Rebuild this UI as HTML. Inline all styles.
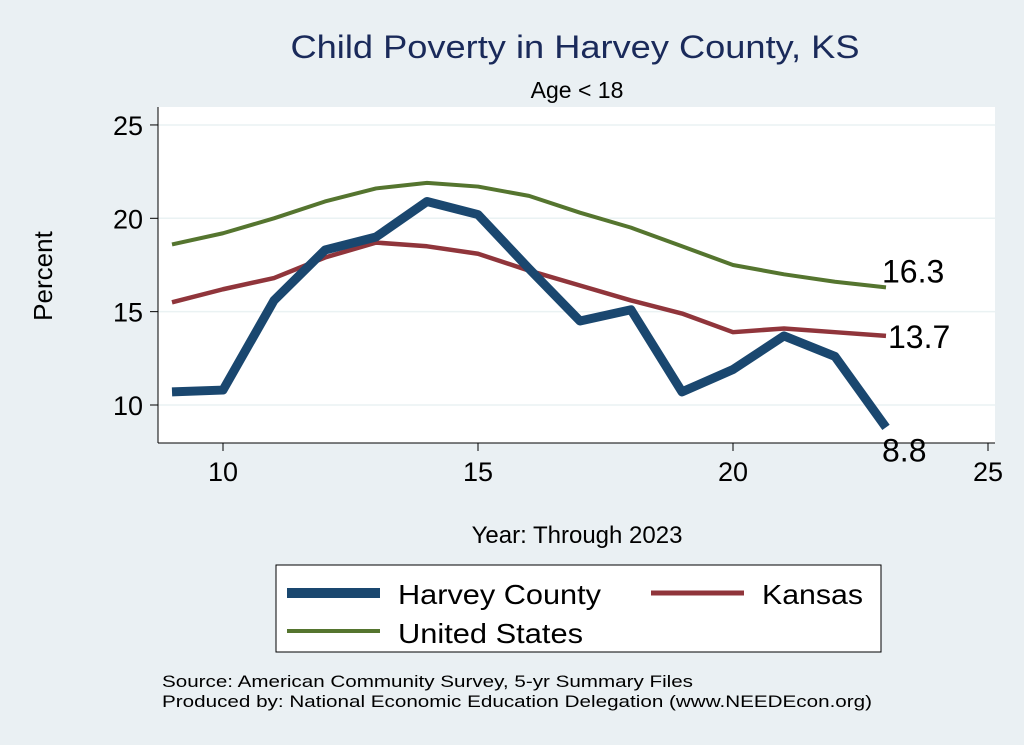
<!DOCTYPE html>
<html><head><meta charset="utf-8"><style>
body{margin:0;background:#eaf0f3;}
svg{display:block;font-family:"Liberation Sans",sans-serif;}
</style></head><body>
<svg id="chart" width="1024" height="745">
<rect x="0" y="0" width="1024" height="745" fill="#eaf0f3"/>
<text x="575" y="58" font-size="32" fill="#1a2a5a" text-anchor="middle" textLength="569" lengthAdjust="spacingAndGlyphs">Child Poverty in Harvey County, KS</text>
<text x="577" y="98" font-size="23" fill="#000" text-anchor="middle">Age &lt; 18</text>
<rect x="158" y="107" width="837" height="336" fill="#fff"/>
<g id="grid"></g>
<g id="axes"></g>
<g id="series"></g>
<text x="52" y="276" font-size="26" text-anchor="middle" transform="rotate(-90 52 276)">Percent</text>
<text x="577" y="543" font-size="24" text-anchor="middle">Year: Through 2023</text>
<g>
<rect x="276" y="565" width="605" height="87" fill="#fff" stroke="#000" stroke-width="1"/>
<line x1="287" y1="593" x2="380" y2="593" stroke="#1a476f" stroke-width="10"/>
<text x="398" y="604" font-size="28" textLength="203" lengthAdjust="spacingAndGlyphs">Harvey County</text>
<line x1="651" y1="593" x2="744" y2="593" stroke="#90353b" stroke-width="5"/>
<text x="762" y="604" font-size="28" textLength="101" lengthAdjust="spacingAndGlyphs">Kansas</text>
<line x1="287" y1="631" x2="380" y2="631" stroke="#55752f" stroke-width="4"/>
<text x="398" y="643" font-size="28" textLength="185" lengthAdjust="spacingAndGlyphs">United States</text>
</g>
<text x="162" y="687" font-size="17" textLength="531" lengthAdjust="spacingAndGlyphs">Source: American Community Survey, 5-yr Summary Files</text>
<text x="162" y="707" font-size="17" textLength="710" lengthAdjust="spacingAndGlyphs">Produced by: National Economic Education Delegation (www.NEEDEcon.org)</text>
</svg>
<script>
const years=[9,10,11,12,13,14,15,16,17,18,19,20,21,22,23];
const harvey=[10.7,10.8,15.6,18.3,19.0,20.9,20.2,17.3,14.5,15.1,10.7,11.9,13.7,12.6,8.8];
const kansas=[15.5,16.2,16.8,17.9,18.7,18.5,18.1,17.2,16.4,15.6,14.9,13.9,14.1,13.9,13.7];
const us=[18.6,19.2,20.0,20.9,21.6,21.9,21.7,21.2,20.3,19.5,18.5,17.5,17.0,16.6,16.3];
const xTicks=[10,15,20,25];
const yTicks=[10,15,20,25];
const NS="http://www.w3.org/2000/svg";
const xs=v=>223+(v-10)*51;
const ys=v=>405-(v-10)*18.67;
function mk(tag,attrs,parent){const e=document.createElementNS(NS,tag);for(const k in attrs)e.setAttribute(k,attrs[k]);parent.appendChild(e);return e;}
const grid=document.getElementById('grid'),axes=document.getElementById('axes'),ser=document.getElementById('series');
yTicks.forEach(t=>{
 const g=mk('line',{x1:158,x2:995,y1:ys(t),y2:ys(t),stroke:'#eaf2f3','stroke-width':1.5},grid);
 
 
 const tk=mk('line',{x1:150,x2:158,y1:ys(t),y2:ys(t),stroke:'#000'},axes);
 
 
 const tx=mk('text',{x:143,y:ys(t)+10,'font-size':27,'text-anchor':'end'},axes);
 tx.textContent=t;
 
 
});
xTicks.forEach(t=>{
 const tk=mk('line',{x1:xs(t),x2:xs(t),y1:443,y2:451,stroke:'#000'},axes);
 
 
 const tx=mk('text',{x:xs(t),y:481,'font-size':27,'text-anchor':'middle'},axes);
 tx.textContent=t;
 
 
});
const ya=mk('line',{x1:158,x2:158,y1:107,y2:443,stroke:'#000'},axes);


const xa=mk('line',{x1:158,x2:995,y1:443,y2:443,stroke:'#000'},axes);


function line(vals,color,w,name,labOff){
 const p=mk('polyline',{points:vals.map((v,i)=>xs(years[i])+','+ys(v)).join(' '),fill:'none',stroke:color,'stroke-width':w,'stroke-linejoin':'round'},ser);
 
 
 const last=vals[vals.length-1];
 const t=mk('text',{x:xs(years[years.length-1])+(labOff[0]),y:ys(last)+labOff[1],'font-size':32},ser);
 t.textContent=last.toFixed(1);
 
 
}
line(us,'#55752f',4,'us',[-4,-5]);
line(kansas,'#90353b',4.5,'kansas',[2,12]);
line(harvey,'#1a476f',9,'harvey',[-4,34]);
</script>
</body></html>
